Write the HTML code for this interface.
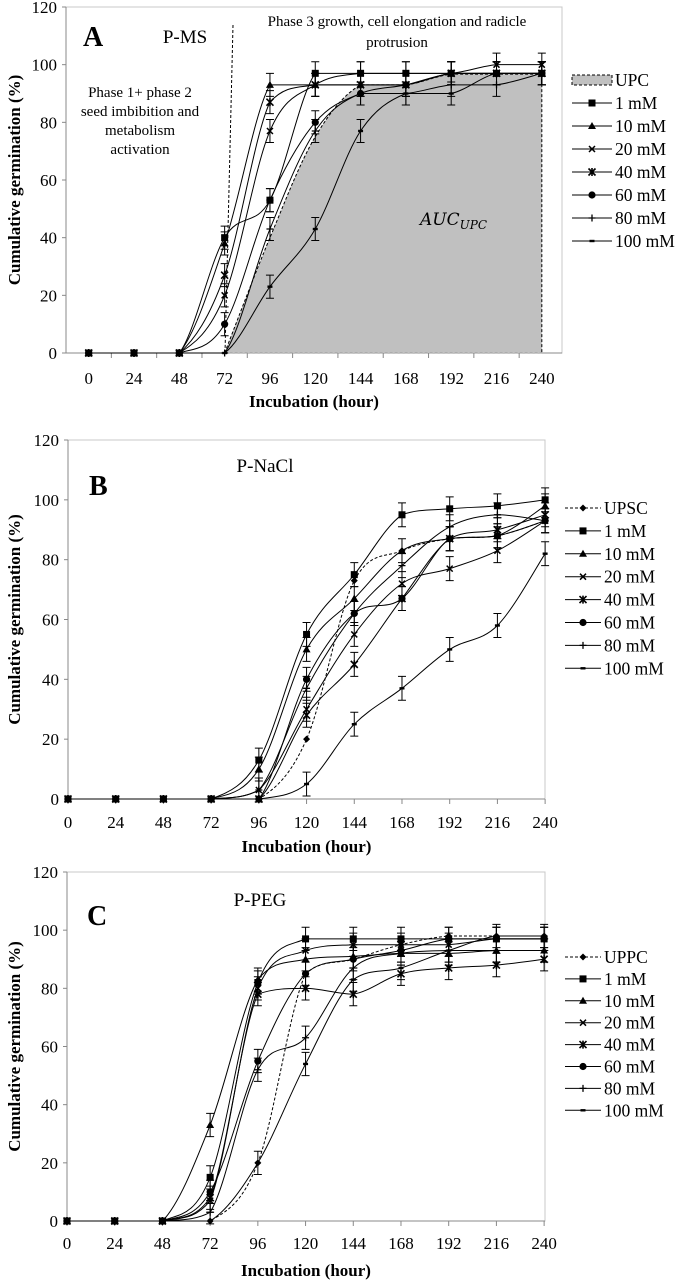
<!DOCTYPE html>
<html><head><meta charset="utf-8">
<style>
html,body{margin:0;padding:0;background:#fff;}
svg{display:block;font-family:"Liberation Serif",serif;}
</style></head>
<body>
<svg id="fig" width="685" height="1280" viewBox="0 0 685 1280">
<g id="pA"></g>
<g id="pB"></g>
<g id="pC"></g>
</svg>
<script>
const hours = [0,24,48,72,96,120,144,168,192,216,240];
const yTicks = [0,20,40,60,80,100,120];
const legendLabels = ["1 mM","10 mM","20 mM","40 mM","60 mM","80 mM","100 mM"];
const markerKinds = ["square","triangle","x","star","circle","plus","dash"];

// Panel A (P-MS)
const aUPC   = [0,0,0,0,40,75,93,93,96.7,96.7,96.7];
const a1mM   = [0,0,0,40,53,97,97,97,97,97,97];
const a10mM  = [0,0,0,38,93,93,93,93,97,97,97];
const a20mM  = [0,0,0,20,77,93,97,97,97,100,100];
const a40mM  = [0,0,0,27,87,93,93,93,97,97,97];
const a60mM  = [0,0,0,10,53,80,90,93,97,97,97];
const a80mM  = [0,0,0,0,43,77,90,90,93,93,97];
const a100mM = [0,0,0,0,23,43,77,90,90,97,97];

// Panel B (P-NaCl)
const bUPSC  = [0,0,0,0,0,20,73,83,87,88,93];
const b1mM   = [0,0,0,0,13,55,75,95,97,98,100];
const b10mM  = [0,0,0,0,10,50,67,83,87,88,98];
const b20mM  = [0,0,0,0,3,30,55,72,77,83,93];
const b40mM  = [0,0,0,0,0,28,45,67,87,90,95];
const b60mM  = [0,0,0,0,0,40,62,67,87,88,93];
const b80mM  = [0,0,0,0,3,37,62,78,91,95,93];
const b100mM = [0,0,0,0,0,5,25,37,50,58,82];

// Panel C (P-PEG)
const cUPPC  = [0,0,0,0,20,85,90,95,98,98,98];
const c1mM   = [0,0,0,15,82,97,97,97,97,97,97];
const c10mM  = [0,0,0,33,83,90,91,92,92,93,93];
const c20mM  = [0,0,0,7,80,93,95,95,95,97,97];
const c40mM  = [0,0,0,8,78,80,78,85,87,88,90];
const c60mM  = [0,0,0,10,55,85,90,93,97,97,97];
const c80mM  = [0,0,0,3,52,63,87,92,93,93,93];
const c100mM = [0,0,0,0,20,54,83,87,93,98,98];
const errSize = 4;

const NS="http://www.w3.org/2000/svg";
function mk(parent,tag,attrs,name,text){
  const e=document.createElementNS(NS,tag);
  for(const k in attrs) e.setAttribute(k,attrs[k]);
  
  
  if(text!==undefined) e.textContent=text;
  parent.appendChild(e);return e;
}
function clamp(v,a,b){const lo=Math.min(a,b),hi=Math.max(a,b);return Math.max(lo,Math.min(hi,v));}
function smoothPath(pts){
  let d="M"+pts[0][0]+","+pts[0][1];
  for(let i=0;i<pts.length-1;i++){
    const p0=pts[Math.max(0,i-1)],p1=pts[i],p2=pts[i+1],p3=pts[Math.min(pts.length-1,i+2)];
    const t=0.17;
    const c1=[p1[0]+(p2[0]-p0[0])*t,clamp(p1[1]+(p2[1]-p0[1])*t,p1[1],p2[1])];
    const c2=[p2[0]-(p3[0]-p1[0])*t,clamp(p2[1]-(p3[1]-p1[1])*t,p1[1],p2[1])];
    d+=" C"+c1.join(",")+" "+c2.join(",")+" "+p2.join(",");
  }
  return d;
}
function marker(g,kind,x,y){
  if(kind==="square") mk(g,"rect",{x:x-3.5,y:y-3.5,width:7,height:7,fill:"#000"},"marker-square");
  else if(kind==="triangle") mk(g,"polygon",{points:`${x},${y-4} ${x-4},${y+3} ${x+4},${y+3}`,fill:"#000"},"marker-triangle");
  else if(kind==="circle") mk(g,"circle",{cx:x,cy:y,r:3.6,fill:"#000"},"marker-circle");
  else if(kind==="x") mk(g,"path",{d:`M${x-3},${y-3}L${x+3},${y+3}M${x+3},${y-3}L${x-3},${y+3}`,stroke:"#000","stroke-width":1.5},"marker-x");
  else if(kind==="star") mk(g,"path",{d:`M${x-3.5},${y-3.5}L${x+3.5},${y+3.5}M${x+3.5},${y-3.5}L${x-3.5},${y+3.5}M${x},${y-4}L${x},${y+4}`,stroke:"#000","stroke-width":1.6},"marker-star");
  else if(kind==="plus") mk(g,"path",{d:`M${x-3.5},${y}L${x+3.5},${y}M${x},${y-3.5}L${x},${y+3.5}`,stroke:"#000","stroke-width":1.3},"marker-plus");
  else if(kind==="dash") mk(g,"rect",{x:x-2.5,y:y-1.2,width:5,height:2.4,fill:"#000"},"marker-dash");
  else if(kind==="diamond") mk(g,"polygon",{points:`${x},${y-3.5} ${x+3.5},${y} ${x},${y+3.5} ${x-3.5},${y}`,fill:"#000"},"marker-diamond");
}

function panel(g,cfg){
  const X=h=>cfg.x0+h*cfg.kx;
  const Y=v=>cfg.y0-v*(cfg.y0-cfg.y120)/120;
  mk(g,"rect",{x:cfg.left,y:cfg.y120,width:cfg.right-cfg.left,height:cfg.y0-cfg.y120,fill:"none",stroke:"#c8c8c8","stroke-width":1},"plot-area");
  mk(g,"line",{x1:cfg.left,y1:cfg.y120,x2:cfg.left,y2:cfg.y0,stroke:"#888"},"y-axis-line");
  mk(g,"line",{x1:cfg.left-4,y1:cfg.y0,x2:cfg.right,y2:cfg.y0,stroke:"#888"},"x-axis-line");
  yTicks.forEach(v=>{
    mk(g,"line",{x1:cfg.left-4,y1:Y(v),x2:cfg.left,y2:Y(v),stroke:"#888"},"y-tick");
    mk(g,"text",{x:cfg.left-9,y:Y(v)+6,"text-anchor":"end","font-size":17},"y-tick-label",String(v));
  });
  hours.forEach((h,i)=>{
    const tx=cfg.tickBetween? X(h)+cfg.kx*12 : X(h);
    if(!(cfg.tickBetween && i===hours.length-1)) mk(g,"line",{x1:tx,y1:cfg.y0,x2:tx,y2:cfg.y0+5,stroke:"#888"},"x-tick");
    mk(g,"text",{x:X(h),y:cfg.tickY,"text-anchor":"middle","font-size":17},"x-tick-label",String(h));
  });
  mk(g,"text",{x:(cfg.left+cfg.right)/2,y:cfg.titleY,"text-anchor":"middle","font-size":17,"font-weight":"bold"},"x-axis-title","Incubation (hour)");
  const cy=(cfg.y0+cfg.y120)/2;
  mk(g,"text",{x:0,y:0,transform:`translate(20,${cy}) rotate(-90)`,"text-anchor":"middle","font-size":17,"font-weight":"bold"},"y-axis-title","Cumulative germination (%)");
  const cp=hours.map((h,i)=>[X(h),Y(cfg.control[i])]);
  if(cfg.fill){
    const s=cp.slice(3);
    let d=smoothPath(s)+` L${X(240)},${Y(0)} L${X(72)},${Y(0)} Z`;
    mk(g,"path",{d:d,fill:"#c0c0c0",stroke:"none"},"auc-upc-area");
    mk(g,"path",{d:smoothPath(s),fill:"none",stroke:"#000","stroke-dasharray":"3,2"},"upc-curve");
    mk(g,"line",{x1:X(240),y1:Y(cfg.control[10]),x2:X(240),y2:Y(0),stroke:"#000","stroke-dasharray":"3,2"},"upc-right-edge");
    mk(g,"line",{x1:X(72),y1:Y(0),x2:X(240),y2:Y(0),stroke:"#999","stroke-dasharray":"3,2"},"upc-bottom-edge");
  } else {
    mk(g,"path",{d:smoothPath(cp),fill:"none",stroke:"#000","stroke-dasharray":"3,2"},"control-curve");
  }
  cfg.series.forEach((vals,si)=>{
    const pts=hours.map((h,i)=>[X(h),Y(vals[i])]);
    mk(g,"path",{d:smoothPath(pts),fill:"none",stroke:"#000","stroke-width":1},"series-"+legendLabels[si].replace(" ","-"));
    hours.forEach((h,i)=>{
      const v=vals[i];
      if(v>0){
        const x=X(h);
        mk(g,"path",{d:`M${x},${Y(v+errSize)}L${x},${Y(v-errSize)}M${x-4},${Y(v+errSize)}L${x+4},${Y(v+errSize)}M${x-4},${Y(v-errSize)}L${x+4},${Y(v-errSize)}`,stroke:"#000","stroke-width":1},"error-bar");
      }
      marker(g,markerKinds[si],X(h),Y(v));
    });
  });
  if(!cfg.fill) hours.forEach((h,i)=>marker(g,"diamond",X(h),Y(cfg.control[i])));
  const lg=mk(g,"g",{},"legend");
  if(cfg.fill){
    mk(lg,"rect",{x:cfg.lx1,y:cfg.ly-5,width:cfg.lx2-cfg.lx1,height:10,fill:"#c0c0c0",stroke:"#000","stroke-dasharray":"3,2"},"legend-upc-swatch");
  } else {
    mk(lg,"line",{x1:cfg.lx1,y1:cfg.ly,x2:cfg.lx2,y2:cfg.ly,stroke:"#000","stroke-dasharray":"3,2"},"legend-control-line");
    marker(lg,"diamond",(cfg.lx1+cfg.lx2)/2,cfg.ly);
  }
  mk(lg,"text",{x:cfg.lx2+3,y:cfg.ly+6,"font-size":17.5},"legend-control-label",cfg.controlName);
  legendLabels.forEach((l,i)=>{
    const y=cfg.ly+(i+1)*cfg.lstep;
    mk(lg,"line",{x1:cfg.lx1,y1:y,x2:cfg.lx2,y2:y,stroke:"#000"},"legend-line");
    marker(lg,markerKinds[i],(cfg.lx1+cfg.lx2)/2,y);
    mk(lg,"text",{x:cfg.lx2+3,y:y+6,"font-size":17.5},"legend-entry",l);
  });
  const [lt,lx,ly]=cfg.letter;
  mk(g,"text",{x:lx,y:ly,"font-size":28,"font-weight":"bold"},"panel-letter",lt);
  mk(g,"text",{x:cfg.nameX,y:cfg.nameY,"font-size":19,"text-anchor":"middle"},"panel-name",cfg.name);
}

const gA=document.getElementById("pA");
panel(gA,{x0:88.7,kx:1.888,y0:353,y120:7,left:66,right:562,tickBetween:true,tickY:384,titleY:407,
  control:aUPC,controlName:"UPC",fill:true,series:[a1mM,a10mM,a20mM,a40mM,a60mM,a80mM,a100mM],
  lx1:572,lx2:612,ly:80,lstep:23,letter:["A",83,46],name:"P-MS",nameX:185,nameY:43});
mk(gA,"line",{x1:233,y1:25,x2:225,y2:353,stroke:"#000","stroke-dasharray":"3,2"},"phase-divider");
mk(gA,"text",{x:397,y:26,"font-size":15,"text-anchor":"middle"},"phase3-label","Phase 3 growth, cell elongation and radicle");
mk(gA,"text",{x:397,y:47,"font-size":15,"text-anchor":"middle"},"phase3-label-2","protrusion");
[["Phase 1+ phase 2",97],["seed imbibition and",116],["metabolism",135],["activation",154]].forEach(([t,y])=>{
  mk(gA,"text",{x:140,y:y,"font-size":15,"text-anchor":"middle"},"phase12-label",t);
});
const auc=mk(gA,"text",{x:420,y:225,"font-size":17,"font-style":"italic","font-family":"DejaVu Serif, serif"},"auc-label","AUC");
const sub=document.createElementNS(NS,"tspan");


sub.setAttribute("dy","4");sub.setAttribute("font-size","12");sub.textContent="UPC";auc.appendChild(sub);

panel(document.getElementById("pB"),{x0:68,kx:1.988,y0:799,y120:440,left:68,right:545,tickBetween:false,tickY:828,titleY:852,
  control:bUPSC,controlName:"UPSC",fill:false,series:[b1mM,b10mM,b20mM,b40mM,b60mM,b80mM,b100mM],
  lx1:565,lx2:601,ly:508,lstep:22.9,letter:["B",89,495],name:"P-NaCl",nameX:265,nameY:472});

panel(document.getElementById("pC"),{x0:67,kx:1.988,y0:1221,y120:872,left:67,right:545,tickBetween:false,tickY:1249,titleY:1276,
  control:cUPPC,controlName:"UPPC",fill:false,series:[c1mM,c10mM,c20mM,c40mM,c60mM,c80mM,c100mM],
  lx1:565,lx2:601,ly:957,lstep:21.9,letter:["C",87,925],name:"P-PEG",nameX:260,nameY:906});
</script>
</body></html>
